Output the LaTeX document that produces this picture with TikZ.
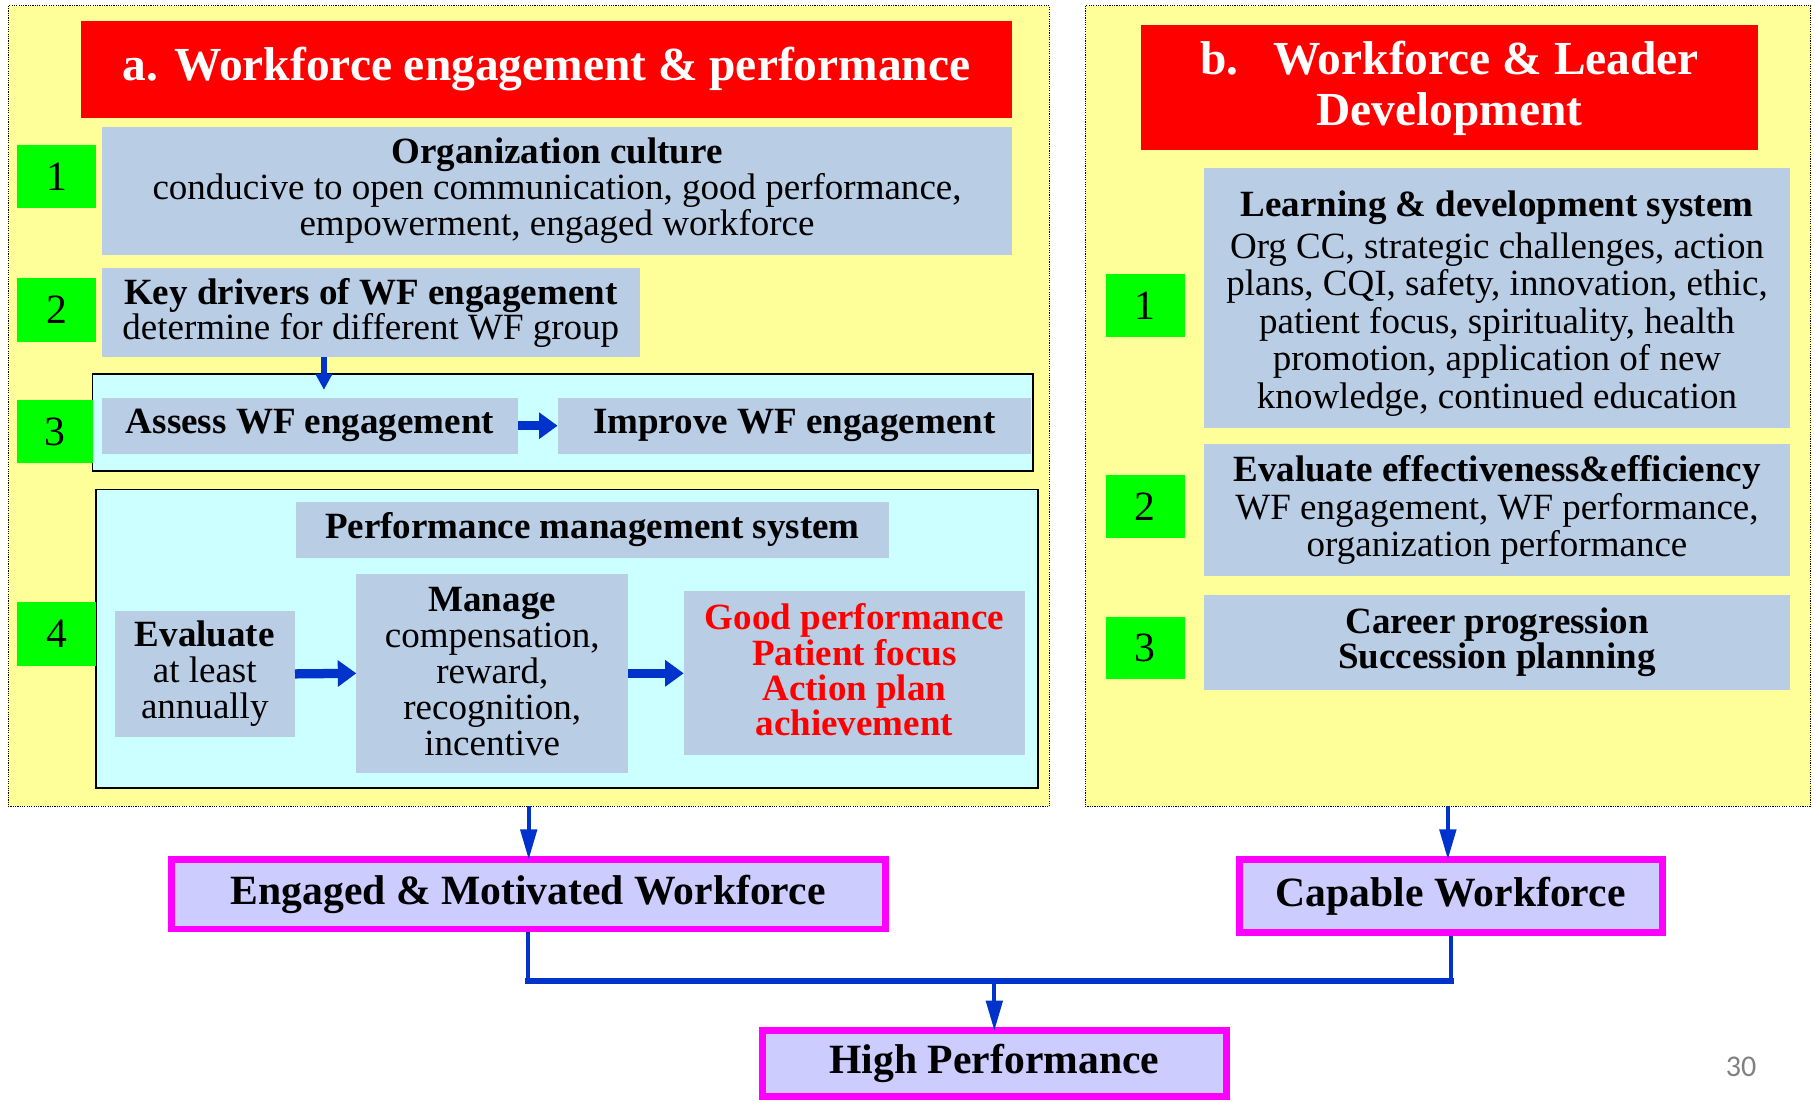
\documentclass[tikz,border=0pt]{standalone}
\usepackage{fontspec}
\setmainfont{Liberation Serif}
\newfontfamily\pgnumfont{Carlito}
\usetikzlibrary{arrows.meta}
\definecolor{panelY}{RGB}{255,255,153}
\definecolor{boxB}{RGB}{185,205,229}
\definecolor{cyanF}{RGB}{204,255,255}
\definecolor{lavF}{RGB}{204,204,255}
\definecolor{arrB}{RGB}{0,51,204}
\definecolor{grnF}{RGB}{0,255,0}
\definecolor{redF}{RGB}{255,0,0}
\definecolor{magF}{RGB}{255,0,255}
\begin{document}
\begin{tikzpicture}[x=1pt,y=-1pt,
  every node/.style={inner sep=0pt, outer sep=0pt},
  panel/.style={draw=black, dash pattern=on 1pt off 1pt, line width=1pt, fill=panelY},
  titlebox/.style={fill=redF, text=white, font=\fontsize{41}{44}\selectfont\bfseries, align=center},
  numbox/.style={fill=grnF, font=\fontsize{36}{36}\selectfont, minimum width=68pt, minimum height=55pt},
  bluebox/.style={fill=boxB, font=\fontsize{32}{31}\selectfont, align=center},
  bluewide/.style={fill=boxB, font=\fontsize{32}{32.5}\selectfont, align=center},
  widetext/.style={font=\fontsize{32}{32.5}\selectfont, align=center},
  cyanbox/.style={draw=black, line width=1.5pt, fill=cyanF},
  resbox/.style={draw=magF, line width=6pt, fill=lavF, font=\fontsize{36}{36}\selectfont\bfseries},
  thinarr/.style={draw=arrB, line width=3.5pt, -{Triangle[length=26pt,width=14pt]}},
  blockarr/.style={draw=arrB, line width=8pt, -{Triangle[length=16pt,width=22pt]}},
  kdarr/.style={draw=arrB, line width=4.5pt, -{Triangle[length=14pt,width=14pt]}},
  mergev/.style={draw=arrB, line width=3.5pt},
  mergeh/.style={draw=arrB, line width=5.5pt, line cap=rect},
]
\useasboundingbox (0,0) rectangle (1568,952.6);

% panels
\node[panel, minimum width=900pt, minimum height=692pt] (lpanel) at (457,351) {};
\node[panel, minimum width=627pt, minimum height=692pt] (rpanel) at (1251.5,351) {};

% left panel
\node[titlebox, minimum width=805pt, minimum height=84pt] (ta) at (472.5,60) {a. Workforce engagement \& performance};

\node[numbox] (g1) at (49,152.5) {1};
\node[bluebox, minimum width=787pt, minimum height=110pt] (org) at (481.5,165)
  {{\bfseries Organization culture}\\conducive to open communication, good performance,\\empowerment, engaged workforce};

\node[numbox] (g2) at (49,268) {2};
\node[bluebox, minimum width=465pt, minimum height=77pt] (key) at (320.5,270.5)
  {{\bfseries Key drivers of WF engagement}\\determine for different WF group};

\node[cyanbox, minimum width=813pt, minimum height=84pt] (c3) at (486.5,365) {};
\node[numbox, minimum width=65pt] (g3) at (47.5,373) {3};
\node[bluebox, font=\fontsize{32}{31}\selectfont\bfseries, minimum width=360pt, minimum height=48pt] (assess) at (268,368) {Assess WF engagement};
\node[bluebox, font=\fontsize{32}{31}\selectfont\bfseries, minimum width=409pt, minimum height=48pt] (improve) at (686.5,368) {Improve WF engagement};

\node[cyanbox, minimum width=814pt, minimum height=258pt] (c4) at (490,552) {};
\node[numbox] (g4) at (49,548) {4};
\node[bluebox, font=\fontsize{32}{31}\selectfont\bfseries, minimum width=512pt, minimum height=48pt] (pms) at (512,458) {Performance management system};
\node[bluebox, minimum width=156pt, minimum height=109pt] (eval) at (177,582.5)
  {{\bfseries Evaluate}\\at least\\annually};
\node[bluebox, minimum width=235pt, minimum height=172pt] (manage) at (425.5,582)
  {{\bfseries Manage}\\compensation,\\reward,\\recognition,\\incentive\\[-28pt]\mbox{}};
\node[bluebox, text=redF, font=\fontsize{32}{30.5}\selectfont\bfseries, minimum width=295pt, minimum height=142pt] (good) at (738.5,582)
  {Good performance\\Patient focus\\Action plan\\achievement\\[-24.5pt]\mbox{}};

% right panel
\node[titlebox, minimum width=534pt, minimum height=108pt] (tb) at (1253,76)
  {b.\hspace{30pt}Workforce \& Leader\\Development};

\node[numbox, minimum height=54pt] (rg1) at (990,264) {1};
\node[bluewide, minimum width=506pt, minimum height=225pt] (learn) at (1294,257.5) {};
\node[widetext] (learntext) at ([yshift=-5pt]learn.center)
  {{\bfseries Learning \& development system}\\[3.5pt]Org CC, strategic challenges, action\\plans, CQI, safety, innovation, ethic,\\patient focus, spirituality, health\\promotion, application of new\\knowledge, continued education};

\node[numbox, minimum height=54pt] (rg2) at (990,438) {2};
\node[bluewide, minimum width=506pt, minimum height=114pt] (evalr) at (1294,441)
  {{\bfseries Evaluate effectiveness\&efficiency}\\WF engagement, WF performance,\\organization performance};

\node[numbox, minimum height=54pt] (rg3) at (990,560) {3};
\node[bluebox, font=\fontsize{32}{30}\selectfont\bfseries, minimum width=506pt, minimum height=82pt] (career) at (1294,555)
  {Career progression\\Succession planning};

% result boxes
\node[resbox, minimum width=617pt, minimum height=60pt] (engaged) at (456.5,773) {Engaged \& Motivated Workforce};
\node[resbox, minimum width=366pt, minimum height=63pt] (capable) at (1254,774.5) {Capable Workforce};
\node[resbox, minimum width=401pt, minimum height=57pt] (high) at (859.5,919.5) {High Performance};

\node[text=gray, font=\pgnumfont\fontsize{26}{26}\selectfont] (pg) at (1505,922) {30};

% arrows inside left panel
\draw[kdarr, shorten >=7pt] ([xshift=-40.5pt]key.south) -- ([xshift=-40.5pt]key.south |- assess.north);
\draw[blockarr] (assess.east) -- (improve.west);
\draw[blockarr] (eval.east) -- (manage.west);
\draw[blockarr] (manage.east) -- (good.west);

% panel to result arrows
\draw[thinarr] (lpanel.south) -- (lpanel.south |- engaged.north);
\draw[thinarr] (rpanel.south) -- (rpanel.south |- capable.north);

% merge
\coordinate (j) at (859.5,848);
\draw[mergev] ([yshift=-3pt]engaged.south) -- (engaged.south |- j);
\draw[mergev] ([yshift=-3pt]capable.south) -- (capable.south |- j);
\draw[mergeh] (engaged.south |- j) -- (capable.south |- j);
\draw[thinarr] (j) -- (high.north);
\end{tikzpicture}
\end{document}
